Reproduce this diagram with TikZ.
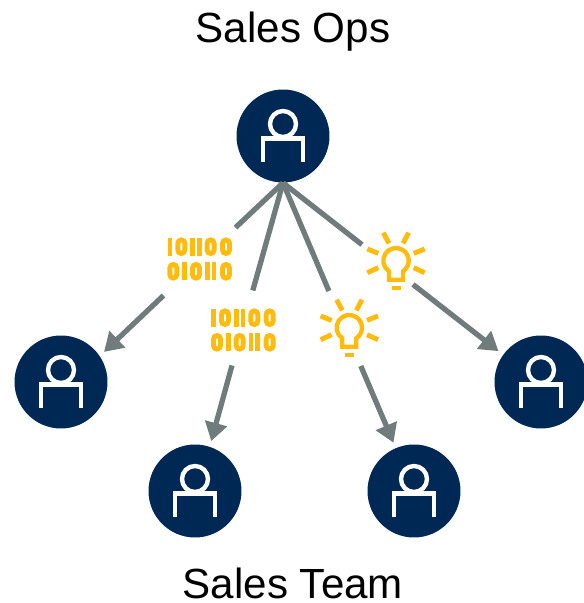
\documentclass[tikz,border=0pt]{standalone}
\usepackage{xcolor}
\usepackage{fontspec}
\setmainfont{Liberation Sans}
\usetikzlibrary{arrows.meta}
\definecolor{navy}{HTML}{002855}
\definecolor{amber}{HTML}{FFBC0F}
\definecolor{slate}{HTML}{707B7B}

\begin{document}
\begin{tikzpicture}[x=0.02cm, y=0.02cm,
				>={Triangle[length=10.5pt,width=12.5pt]},
				title/.style={anchor=base, inner sep=0pt, font=\fontsize{24}{28}\selectfont},
				lead/.style={circle, fill=navy, minimum size=1.86cm, inner sep=0pt},
				rep/.style={circle, fill=navy, minimum size=1.86cm, outer sep=0.12cm, inner sep=0pt},
				gap/.style={rectangle, inner sep=0pt, outer sep=0pt},
				link/.style={draw=slate, line width=3pt},
				person/.pic={
					\draw[white, line width=2.5pt] (0,12) circle (13);
					\draw[white, line width=2.5pt] (-20,-25.7) -- (-20,-2.5) -- (20,-2.5) -- (20,-25.7);
				},
				bits/.pic={
					\foreach \x/\y in {-29.3/12.3, -6.7/12.3, 0/12.3, -14.7/-12.3, 8/-12.3, 14.7/-12.3}
						\draw[amber, line width=2.8pt] (\x,\y-9) -- (\x,\y+9);
					\foreach \x/\y in {-18/12.3, 11.3/12.3, 26.7/12.3, -26/-12.3, -3.3/-12.3, 26.7/-12.3}
						\draw[amber, line width=2.8pt, rounded corners=0.07cm] (\x-3.5,\y-6.8) rectangle (\x+3.5,\y+6.8);
				},
				bulb/.pic={
					\draw[amber, line width=2.5pt, line join=miter]
						(-7,-19) -- (-7,-10.6) arc[start angle=-123.4, end angle=-416.6, radius=0.254cm] -- (7,-19) -- cycle;
					\draw[amber, line width=2.5pt] (-4.5,-27.3) -- (4.5,-27.3);
					\foreach \s in {1,-1} {
						\draw[amber, line width=2.8pt] (\s*7,17.3) -- (\s*12.7,28);
						\draw[amber, line width=2.8pt] (\s*17.7,7.3) -- (\s*28.7,11.7);
						\draw[amber, line width=2.8pt] (\s*17.7,-7) -- (\s*28.7,-12);
					}
				}]
				\useasboundingbox (0,0) rectangle (583,603);

				\node[title] at (293,560) (ops) {Sales Ops};
				\node[title] at (293,5) (team) {Sales Team};

				\node[lead] at (283,467) (hub) {};
				\node[rep] at (61,221) (repa) {};
				\node[rep] at (195,112) (repb) {};
				\node[rep] at (414,112) (repc) {};
				\node[rep] at (541,221) (repd) {};

				\node[gap, minimum width=1.44cm, minimum height=1.4cm] at (199.5,341.6) (bitsa) {};
				\node[gap, minimum width=1.44cm, minimum height=1.5cm] at (242.3,275) (bitsb) {};
				\node[gap, minimum width=1.44cm, minimum height=1.5cm] at (344.8,274.5) (bulbb) {};
				\node[gap, minimum width=1.02cm, minimum height=1.2cm] at (387.5,338.4) (bulba) {};

				\draw[link] (hub.south) -- (bitsa);
				\draw[link] (hub.south) -- (bitsb);
				\draw[link] (hub.south) -- (bulbb);
				\draw[link] (hub.south) -- (bulba);
				\draw[link, ->] (bitsa) -- (repa.35.8);
				\draw[link, ->] (bitsb) -- (repb.72.6);
				\draw[link, ->] (bulbb) -- (repc.113.2);
				\draw[link, ->] (bulba) -- (repd.144.2);

				\foreach \n in {hub, repa, repb, repc, repd}
					\pic at (\n) {person};
				\pic at (199.3,344) {bits};
				\pic at (243,273) {bits};
				\pic at (396,342.3) {bulb};
				\pic at (349.3,275.3) {bulb};
			\end{tikzpicture}
\end{document}
